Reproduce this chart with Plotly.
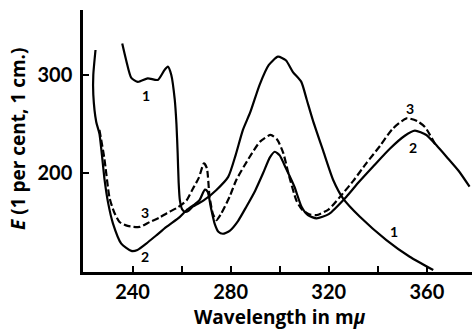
import plotly.graph_objects as go

# Curve 1 (solid)
c1_x = [235.8, 237.4, 239.5, 242.2, 246.2, 250.3, 253.0, 254.4, 255.8, 257.2, 257.9, 258.4,
        258.8, 259.3, 260.2, 261.3, 262.8, 264.5, 269.0, 274.2, 279.0, 282.0, 285.0, 288.0,
        291.8, 295.5, 299.3, 302.5, 305.4, 308.8, 311.0, 313.5, 317.6, 321.8, 325.8, 332.7,
        343.5, 353.0, 362.6]
c1_y = [332, 315, 297, 293, 296.6, 295, 305, 308.5, 300, 275, 250, 220,
        190, 172, 163, 160.5, 161.5, 165.6, 172, 182.7, 196, 218, 244, 262,
        290, 310, 318.7, 315, 303, 293, 275, 254, 223.5, 192.9, 174.2, 155.4,
        131.6, 114.6, 101]

# Curve 2 (solid)
c2_x = [224.9, 224.0, 224.0, 225.2, 226.5, 228.6, 230.0, 232.0, 235.4, 239.5, 242.0, 245.6,
        249.5, 253.8, 259.2, 262.0, 265.0, 267.3, 269.5, 270.6, 272.0, 273.5, 275.0, 276.8,
        279.6, 283.0, 286.4, 290.0, 293.2, 296.0, 298.0, 300.0, 302.5, 306.0, 308.9, 311.5,
        315.0, 320.0, 327.2, 332.0, 338.0, 345.0, 351.0, 355.1, 359.8, 364.0, 368.0, 373.0,
        377.4]
c2_y = [325.5, 300, 280, 252, 240, 193, 170, 148.7, 128, 120.5, 121.5, 128,
        136, 145, 155, 162, 167.5, 172.4, 183, 181, 164, 148, 140, 138,
        141, 151, 165.6, 182, 199.7, 216, 221.7, 218, 205, 186, 165.6, 157,
        153.8, 158, 175.8, 190, 206.4, 225, 238, 243.2, 238.8, 228, 216.6, 202,
        186]

# Curve 3 (dashed)
c3_x = [226.5, 228.5, 230.6, 232.5, 234.7, 238.0, 242.9, 247.0, 251.0, 254.0, 258.5, 262.0,
        264.6, 267.0, 269.1, 270.3, 271.4, 272.8, 274.2, 276.0, 279.6, 282.3, 287.8, 292.0,
        296.3, 299.0, 301.5, 303.5, 306.8, 309.0, 312.0, 315.0, 320.0, 325.8, 330.0, 335.3,
        341.0, 346.0, 351.7, 356.0, 359.2, 363.9]
c3_y = [244, 215, 175, 160, 150, 146, 145, 150, 154.5, 159, 165, 172,
        184, 195, 209.9, 205, 175.8, 158, 152, 158, 176, 192.9, 216.6, 232,
        238.8, 234, 220, 200, 172, 163, 158, 157, 163, 179.3, 192, 209.9,
        228, 245, 255.8, 253, 247, 226.9]

# Curve labels
lab_text = ["1", "3", "2", "1", "3", "2"]
lab_x = [245.5, 244.9, 244.9, 346.5, 353.0, 354.4]
lab_y = [279.0, 160.0, 114.6, 140.0, 266.0, 226.0]

# Axis ticks and titles
x_tickvals = [240, 260, 280, 300, 320, 340, 360]
x_ticktext = ["240", "", "280", "", "320", "", "360"]
y_tickvals = [200, 300]
y_ticktext = ["200", "300"]
x_title = "Wavelength in m<i>μ</i>"
y_title = "<i>E</i> (1 per cent, 1 cm.)"

FONT = "Lato"
TFONT = "Open Sans"
W, H = 472, 330
ML, MR, MT, MB = 83, 0, 10, 58
PW, PH = W - ML - MR, H - MT - MB

fig = go.Figure()
fig.add_trace(go.Scatter(x=c1_x, y=c1_y, mode="lines",
                         line=dict(color="black", width=2.2, shape="spline", smoothing=0.6)))
fig.add_trace(go.Scatter(x=c2_x, y=c2_y, mode="lines",
                         line=dict(color="black", width=2.2, shape="spline", smoothing=0.6)))
fig.add_trace(go.Scatter(x=c3_x, y=c3_y, mode="lines",
                         line=dict(color="black", width=2.2, shape="spline", smoothing=0.6,
                                   dash="7px,3px")))

for t, xx, yy in zip(lab_text, lab_x, lab_y):
    fig.add_annotation(x=xx, y=yy, text=t, showarrow=False,
                       font=dict(family=FONT, size=14, color="black", weight="bold"))

# axis titles placed as text annotations
fig.add_annotation(xref="paper", yref="paper", x=(280 - ML) / PW, y=-(317 - (MT + PH)) / PH,
                   text=x_title, showarrow=False, xanchor="center", yanchor="middle",
                   font=dict(family=TFONT, size=19, color="black", weight="bold"))
fig.add_annotation(xref="paper", yref="paper", x=(18 - ML) / PW, y=((MT + PH) - 139) / PH,
                   text=y_title, showarrow=False, xanchor="center", yanchor="middle",
                   textangle=-90,
                   font=dict(family=TFONT, size=19, color="black", weight="bold"))

fig.update_layout(
    width=W, height=H,
    margin=dict(l=ML, r=MR, t=MT, b=MB),
    paper_bgcolor="white", plot_bgcolor="white",
    showlegend=False,
    font=dict(family=FONT, color="black"),
)
fig.update_xaxes(
    range=[219.8, 378.4], showgrid=False, zeroline=False,
    showline=True, linecolor="black", linewidth=2.5,
    ticks="inside", ticklen=6, tickwidth=2, tickcolor="black",
    tickvals=x_tickvals, ticktext=x_ticktext,
    tickfont=dict(family=FONT, size=20, color="black", weight="bold"),
    ticklabelstandoff=0,
    automargin=False,
)
fig.update_yaxes(
    range=[99.0, 366.3], showgrid=False, zeroline=False,
    showline=True, linecolor="black", linewidth=2.5,
    ticks="inside", ticklen=6, tickwidth=2, tickcolor="black",
    tickvals=y_tickvals, ticktext=y_ticktext,
    tickfont=dict(family=FONT, size=20, color="black", weight="bold"),
    ticklabelstandoff=4,
    automargin=False,
)

fig.write_html("out.html", config={"displayModeBar": False},
               post_script="document.body.style.margin='0px';")
